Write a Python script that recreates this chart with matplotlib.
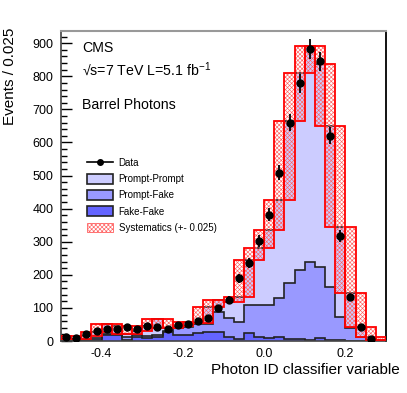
import numpy as np
import matplotlib
matplotlib.use("Agg")
import matplotlib.pyplot as plt
from matplotlib.lines import Line2D
from matplotlib.patches import Patch

plt.rcParams['font.family'] = ['Liberation Sans', 'DejaVu Sans']
plt.rcParams['mathtext.fontset'] = 'custom'
plt.rcParams['mathtext.rm'] = 'Liberation Sans'
plt.rcParams['mathtext.it'] = 'Liberation Sans'
plt.rcParams['hatch.linewidth'] = 0.45

# ---- binning ----
x_min = -0.5
bin_width = 0.025
n_bins = 32

# ---- data (events per bin) ----
data_counts = [13, 8, 21, 30, 35, 35, 41, 35, 45, 41, 35, 48, 52, 60, 69, 99,
               124, 190, 235, 303, 382, 508, 660, 779, 882, 845, 621, 318, 132, 43, 5, 0]

# ---- MC stack tops ----
# total (Prompt-Prompt + Prompt-Fake + Fake-Fake)
mc_total = [14, 5, 16, 28, 50, 45, 22, 30, 45, 68, 40, 46, 58, 55, 104, 124,
            119, 134, 245, 281, 336, 427, 665, 811, 893, 836, 651, 345, 145, 43, 12, 3]
# Prompt-Fake + Fake-Fake
mc_pf_ff = [5, 4, 6, 10, 22, 22, 12, 18, 14, 18, 30, 40, 42, 50, 50, 89,
            69, 57, 109, 109, 109, 129, 175, 215, 240, 223, 163, 74, 38, 12, 3, 1]
# Fake-Fake
mc_ff = [1, 1, 2, 4, 18, 18, 3, 13, 8, 13, 28, 18, 18, 23, 28, 28,
         13, 6, 23, 13, 8, 12, 6, 5, 3, 8, 3, 2, 1, 0, 0, 0]

labels = ["Data", "Prompt-Prompt", "Prompt-Fake", "Fake-Fake", "Systematics (+- 0.025)"]
c_pp = "#ccccff"
c_pf = "#9999ff"
c_ff = "#6464ff"
c_hatch = "#ff6060"

edges = x_min + bin_width * np.arange(n_bins + 1)
centers = 0.5 * (edges[:-1] + edges[1:])
tot = np.array(mc_total, float)

# systematic band: MC shifted by +-0.025 (one bin)
padded = np.concatenate([[tot[0]], tot, [tot[-1]]])
stack3 = np.vstack([padded[:-2], padded[1:-1], padded[2:]])
sys_lo = stack3.min(axis=0)
sys_hi = stack3.max(axis=0)

fig = plt.figure(figsize=(4.07, 3.93), dpi=100)
ax = fig.add_axes([61/407, 1-341/393, 325/407, 310/393])

for vals, col in [(mc_total, c_pp), (mc_pf_ff, c_pf), (mc_ff, c_ff)]:
    ax.stairs(vals, edges, fill=True, color=col, zorder=1)
    ax.stairs(vals, edges, fill=False, color="#222222", lw=1.2, zorder=2)

ax.bar(centers, sys_hi - sys_lo, bottom=sys_lo, width=bin_width,
       facecolor="none", edgecolor=c_hatch, hatch="xxxxxxxx", lw=0, zorder=3)
ax.bar(centers, sys_hi - sys_lo, bottom=sys_lo, width=bin_width,
       facecolor="none", edgecolor="red", lw=1.3, zorder=3.5)

d = np.array(data_counts, float)
m = d > 0
ax.errorbar(centers[m], d[m], yerr=np.sqrt(d[m]), fmt="o", color="black",
            ms=5, elinewidth=1.3, capsize=0, zorder=5)

ax.set_xlim(-0.5, 0.3)
ax.set_ylim(0, 937)
ax.set_xticks([-0.4, -0.2, 0.0, 0.2])
ax.set_xticklabels(["-0.4", "-0.2", "0.0", "0.2"])
ax.set_yticks(np.arange(0, 901, 100))
ax.set_yticks(np.arange(0, 937, 20), minor=True)
ax.tick_params(axis="y", which="major", direction="in", length=8, width=1, labelsize=9, pad=5.5)
ax.tick_params(axis="y", which="minor", direction="in", length=4, width=1)
ax.tick_params(axis="x", which="both", length=0, labelsize=9, pad=5)
ax.tick_params(axis="y", right=False)

for s in ["left", "bottom"]:
    ax.spines[s].set_color("#444444")
    ax.spines[s].set_linewidth(1.2)
ax.spines["top"].set_color("#999999")
ax.spines["top"].set_linewidth(1.5)
ax.spines["right"].set_color("black")
ax.spines["right"].set_linewidth(1.3)

fig.text(10/407, 1-28/393, "Events / 0.025", rotation=90, ha="center", va="top", fontsize=11)
fig.text(400/407, 1-370/393, "Photon ID classifier variable", ha="right", va="center", fontsize=11)

ax.text(82/407, 1-48/393, "CMS", transform=fig.transFigure, fontsize=10.2, va="center", ha="left")
ax.text(82/407, 1-70/393, "\u221as=7 TeV L=5.1 fb$^{-1}$", transform=fig.transFigure,
        fontsize=10.2, va="center", ha="left")
ax.text(82/407, 1-105/393, "Barrel Photons", transform=fig.transFigure, fontsize=10.2, va="center", ha="left")

handles = [
    Line2D([], [], color="black", marker="o", ms=4, lw=1.2),
    Patch(facecolor=c_pp, edgecolor="#222222", lw=1.2),
    Patch(facecolor=c_pf, edgecolor="#222222", lw=1.2),
    Patch(facecolor=c_ff, edgecolor="#222222", lw=1.2),
    Patch(facecolor="none", edgecolor=c_hatch, hatch="xxxxxxxx", lw=0.6),
]
leg = fig.legend(handles, labels, loc="upper left", bbox_to_anchor=(87/407, 1-158/393),
                 frameon=False, fontsize=7.0, handlelength=2.7, handleheight=1.15,
                 labelspacing=0.62, handletextpad=0.55, borderaxespad=0, borderpad=0)

fig.savefig("out.png", dpi=100)
